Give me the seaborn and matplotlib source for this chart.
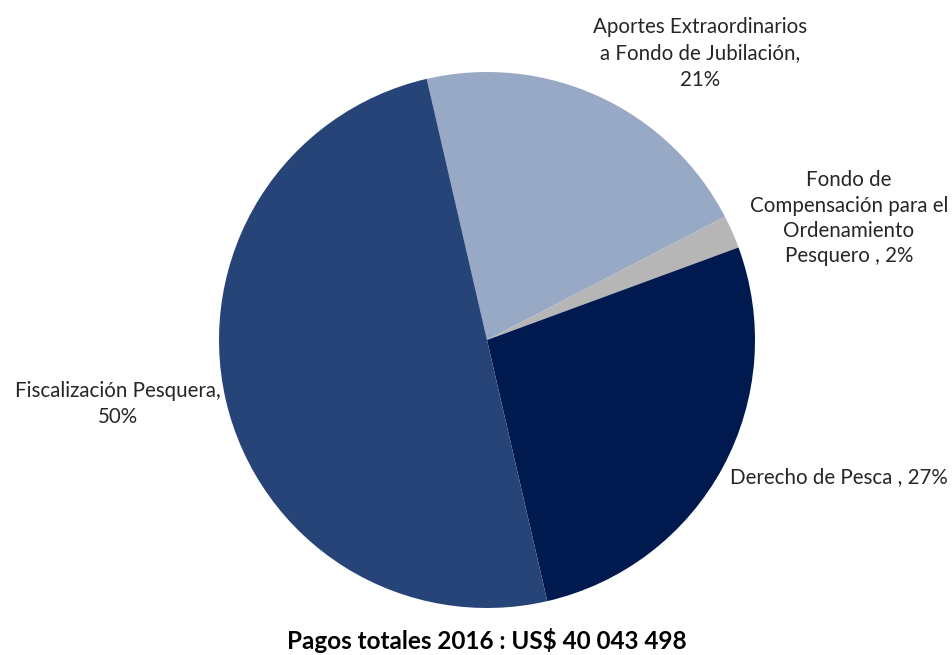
import numpy as np
import seaborn as sns
import matplotlib.pyplot as plt

# Data (shares of total payments 2016)
categories = ['Aportes Extraordinarios\na Fondo de Jubilación,\n21%',
              'Fondo de\nCompensación para el\nOrdenamiento\nPesquero , 2%',
              'Derecho de Pesca , 27%',
              'Fiscalización Pesquera,\n50%']
shares = [21, 2, 27, 50]
colors = ['#98A9C5', '#B6B6B6', '#001A4F', '#264478']
title = 'Pagos totales 2016 : US$ 40 043 498'

sns.set_theme(style='white')
plt.rcParams['font.family'] = ['Lato', 'DejaVu Sans']

fig = plt.figure(figsize=(9.52, 6.55), dpi=100)
ax = fig.add_axes([0, 0, 1, 1])

wedges, _ = ax.pie(shares, colors=colors, startangle=103, counterclock=False,
                   radius=1.0, wedgeprops=dict(linewidth=0))

# figure pixels -> data units (radius = 268 px, centre at 487, 340)
r_px = 268.0
ax.set_xlim(-487 / r_px, (952 - 487) / r_px)
ax.set_ylim(-(655 - 340) / r_px, 340 / r_px)
ax.set_aspect('auto')
ax.axis('off')

# label placement (data units), per slice
label_pos = [(0.795, 1.07, 'center'), (1.35, 0.455, 'center'),
             (0.905, -0.51, 'left'), (-1.377, -0.239, 'center')]
spacing = [1.4, 1.32, 1.4, 1.4]
for txt, (x, y, ha), ls in zip(categories, label_pos, spacing):
    ax.text(x, y, txt, ha=ha, va='center', fontsize=14.8, color='#262626',
            linespacing=ls, multialignment='center')

ax.text(0, -1.12, title, ha='center', va='center', fontsize=17.5,
        fontweight='bold', color='#000000')

fig.savefig('out.png', dpi=100)
